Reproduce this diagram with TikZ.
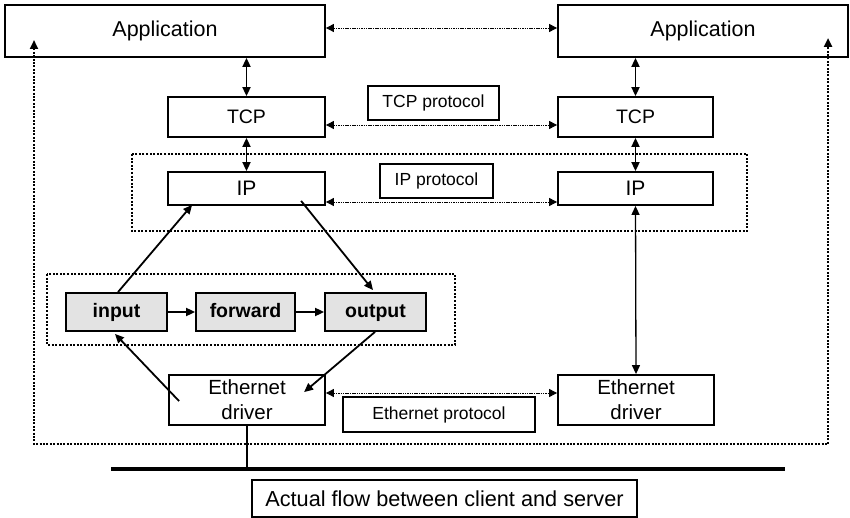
\documentclass[tikz,border=0pt]{standalone}
\usepackage{fontspec}
\setmainfont{Liberation Sans}
\usetikzlibrary{arrows.meta,calc}
\tikzset{
  box/.style={draw, line width=1.8pt, inner sep=0pt, align=center},
  filt/.style={box, fill=gray!22, text height=14pt, text depth=4pt, font=\fontsize{19.5}{22}\selectfont\bfseries},
  protobox/.style={draw, line width=1.6pt, inner sep=0pt, text height=13pt, text depth=4pt, font=\fontsize{17.5}{20}\selectfont},
  tip/.style={-{Triangle[length=9pt,width=8pt]}},
  dtip/.style={{Triangle[length=9pt,width=8pt]}-{Triangle[length=9pt,width=8pt]}},
  solidarrow/.style={line width=1.8pt},
  protoarrow/.style={line width=0.9pt, dash pattern=on 1.5pt off 0.8pt, {Triangle[length=8pt,width=8pt]}-{Triangle[length=8pt,width=8pt]}},
  groupline/.style={line width=2.3pt, dash pattern=on 2pt off 1.6pt},
  bigdot/.style={line width=2.3pt, dash pattern=on 2pt off 1.4pt},
}
\begin{document}
\begin{tikzpicture}[x=1pt,y=-1pt]
\useasboundingbox (0,0) rectangle (850,518);
% groups
\draw[groupline] (132,154) rectangle (747,231);
\draw[groupline] (47,274) rectangle (455,345);
% boxes
\node[box, minimum width=320, minimum height=52, font=\fontsize{21.5}{24}\selectfont] (appL) at (165,31) {Application};
\node[box, minimum width=290, minimum height=52, font=\fontsize{21.5}{24}\selectfont] (appR) at (703,31) {Application};
\node[box, minimum width=157, minimum height=40, font=\fontsize{19.5}{22}\selectfont] (tcpL) at (246.5,117) {TCP};
\node[box, minimum width=155, minimum height=40, font=\fontsize{19.5}{22}\selectfont] (tcpR) at (635.5,117) {TCP};
\node[protobox, minimum width=131, minimum height=34] (tcpP) at (433.5,103) {TCP protocol};
\node[box, minimum width=157, minimum height=33, font=\fontsize{21}{24}\selectfont] (ipL) at (246.5,188.5) {IP};
\node[box, minimum width=155, minimum height=33, font=\fontsize{21}{24}\selectfont] (ipR) at (635.5,188.5) {IP};
\node[protobox, minimum width=113, minimum height=34] (ipP) at (436.5,181) {IP protocol};
\node[filt, minimum width=101, minimum height=38] (input) at (116.5,312) {input};
\node[filt, minimum width=99, minimum height=38] (forward) at (245.5,312) {forward};
\node[filt, minimum width=101, minimum height=38] (output) at (375.5,312) {output};
\node[box, minimum width=156, minimum height=50, font=\fontsize{20.5}{25}\selectfont] (ethL) at (247,400) {Ethernet\\driver};
\node[box, minimum width=156, minimum height=50, font=\fontsize{20.5}{25}\selectfont] (ethR) at (636,400) {Ethernet\\driver};
\node[protobox, minimum width=192, minimum height=35] (ethP) at (439,414.5) {Ethernet protocol};
\node[box, line width=1.5pt, minimum width=385, minimum height=37, font=\fontsize{21.7}{24}\selectfont] (flow) at (444.5,498.5) {Actual flow between client and server};
% vertical double arrows
\draw[solidarrow, dtip] (tcpL.north |- appL.south) -- (tcpL.north);
\draw[solidarrow, dtip] (tcpL.south) -- (ipL.north);
\draw[solidarrow, dtip] (tcpR.north |- appR.south) -- (tcpR.north);
\draw[solidarrow, dtip] (tcpR.south) -- (ipR.north);
\draw[line width=1.3pt, dtip] (ipR.south) -- (ethR.north);
% protocol dotted arrows
\draw[protoarrow] ($(appL.east)+(0,-3)$) -- ($(appR.west)+(0,-3)$);
\draw[protoarrow] ($(tcpL.east)+(0,8)$) -- ($(tcpR.west)+(0,8)$);
\draw[protoarrow] ($(ipL.east)+(0,13.5)$) -- ($(ipR.west)+(0,13.5)$);
\draw[protoarrow] ($(ethL.east)+(0,-7)$) -- ($(ethR.west)+(0,-7)$);
% filter chain
\draw[solidarrow, tip] (input) -- (forward);
\draw[solidarrow, tip] (forward) -- (output);
\coordinate (inTop) at ($(input.north)+(1.5,0)$);
\coordinate (ipIn) at ($(ipL.south west)+(25,-1)$);
\coordinate (ipOut) at ($(ipL.south west)+(134,-5)$);
\coordinate (outTop) at ($(output.north)+(-2.5,-2)$);
\coordinate (outBot) at ($(output.south)+(-0.5,0)$);
\coordinate (ethIn) at ($(ethL.north west)+(136,18)$);
\coordinate (ethOut) at ($(ethL.north west)+(11,27)$);
\coordinate (inBot) at ($(input.south)+(-1.5,2)$);
\draw[solidarrow, tip] (inTop) -- (ipIn);
\draw[solidarrow, tip] (ipOut) -- (outTop);
\draw[solidarrow, tip] (outBot) -- (ethIn);
\draw[solidarrow, tip] (ethOut) -- (inBot);
% big feedback loop
\coordinate (loopL) at (34,40);
\coordinate (loopR) at (828,38);
\draw[bigdot, {Triangle[length=9pt,width=8pt]}-{Triangle[length=9pt,width=8pt]}] (loopL) -- (34,444) -- (828,444) -- (loopR);
% wire
\coordinate (wireL) at (111,469);
\coordinate (wireR) at (785,469);
\draw[line width=3.5pt] (wireL) -- (wireR);
\draw[line width=1.6pt] (ethL.south) -- (ethL.south |- wireL);
\end{tikzpicture}
\end{document}
